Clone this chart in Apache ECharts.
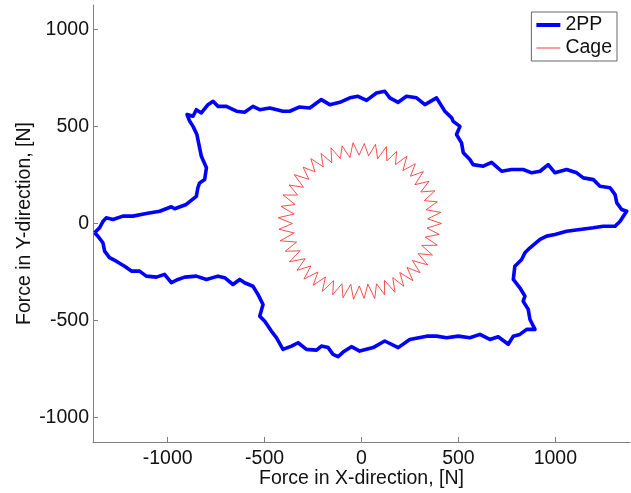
<!DOCTYPE html>
<html>
<head>
<meta charset="utf-8">
<script src="https://cdn.jsdelivr.net/npm/echarts@6/dist/echarts.min.js"></script>
<style>
html, body { margin: 0; padding: 0; background: #fff; }
#chart { width: 631px; height: 493px; }
</style>
</head>
<body>
<div id="chart"></div>
<script>
// 2PP force loop, traced clockwise from the left tip
const ppX = [-1377,-1351,-1334,-1317,-1282,-1231,-1179,-1110,-1041,-981,
  -964,-904,-852,-844,-835,-809,-800,-826,-835,-849,
  -869,-886,-900,-869,-852,-826,-792,-766,-740,-697,
  -645,-603,-560,-525,-473,-405,-370,-319,-267,-207,
  -164,-112,-60,-18,26,77,120,146,189,232,
  284,327,387,430,465,473,508,490,516,525,
  559,576,628,671,723,774,834,878,921,963,
  998,1058,1110,1144,1196,1230,1282,1308,1317,1342,
  1368,1351,1334,1308,1247,1196,1127,1058,998,955,
  921,869,843,826,791,783,817,843,834,860,
  869,895,852,817,783,757,705,662,611,559,
  499,439,387,336,249,189,120,60,-9,-52,
  -95,-121,-147,-172,-207,-232,-284,-327,-361,-405,
  -439,-465,-499,-525,-508,-534,-560,-603,-628,-663,
  -706,-740,-800,-852,-912,-947,-981,-1016,-1058,-1110,
  -1145,-1187,-1222,-1265,-1300,-1325,-1334,-1360,-1377];
const ppY = [-48,-22,10,29,21,38,38,51,63,86,
  76,98,140,184,209,226,287,346,389,458,
  500,526,561,552,586,569,612,629,603,603,
  578,573,603,586,595,578,578,600,595,638,
  612,624,647,655,634,672,681,647,624,655,
  647,612,647,578,544,526,500,458,415,364,
  329,303,295,315,269,278,278,261,269,303,
  261,278,261,235,226,192,184,149,106,72,
  63,38,12,-14,-14,-22,-31,-40,-57,-65,
  -82,-125,-151,-185,-220,-288,-331,-374,-400,-442,
  -494,-545,-545,-571,-580,-622,-583,-597,-571,-588,
  -580,-588,-580,-580,-597,-639,-605,-639,-657,-634,
  -662,-686,-674,-639,-631,-652,-648,-614,-631,-648,
  -588,-554,-503,-477,-417,-365,-323,-305,-288,-314,
  -279,-271,-288,-271,-276,-288,-305,-262,-276,-271,
  -245,-245,-220,-194,-176,-142,-99,-65,-48];

// Cage force, read as radius [N] at each angle [deg]
const cageAngle = [0,4,8,12,16,20,24,28,32,36,
  40,44,48,52,56,60,64,68,72,76,
  80,84,88,92,96,100,104,108,112,116,
  120,124,128,132,136,140,144,148,152,156,
  160,164,168,172,176,180,184,188,192,196,
  200,204,208,212,216,220,224,228,232,236,
  240,244,248,252,256,260,264,268,272,276,
  280,284,288,292,296,300,304,308,312,316,
  320,324,328,332,336,340,344,348,352,356,360];
const cageRadius = [412,342,412,340,406,344,414,346,410,340,
  416,350,414,346,418,350,412,348,416,344,
  414,350,412,352,418,344,412,352,420,348,
  416,352,424,358,418,354,428,352,422,360,
  430,356,424,350,430,356,426,350,428,348,
  418,346,420,342,410,340,412,336,404,332,
  404,328,396,326,394,318,392,322,386,314,
  392,320,386,316,394,322,390,320,396,326,
  394,324,402,330,400,330,406,336,404,338,412];

const xTicks = [-1000, -500, 0, 500, 1000];
const yTicks = [-1000, -500, 0, 500, 1000];

const font = "'Liberation Sans', Arial, sans-serif";
const axisGray = '#808080';

const ppData = ppX.map((x, i) => [x, ppY[i]]);
const cageData = cageAngle.map((a, i) => [cageRadius[i], a]);

const chart = echarts.init(document.getElementById('chart'), null, { renderer: 'canvas' });
chart.setOption({
  backgroundColor: '#fff',
  animation: false,
  grid: {
    left: 93, right: 1, top: 5, bottom: 51,
    containLabel: false,
    outerBoundsMode: 'none'
  },
  polar: {
    center: [361.5, 223.5],
    radius: 194.2
  },
  angleAxis: {
    type: 'value', min: 0, max: 360, startAngle: 0, clockwise: false,
    axisLine: { show: false }, axisTick: { show: false },
    axisLabel: { show: false }, splitLine: { show: false }
  },
  radiusAxis: {
    type: 'value', min: 0, max: 1000,
    axisLine: { show: false }, axisTick: { show: false },
    axisLabel: { show: false }, splitLine: { show: false }
  },
  xAxis: {
    type: 'value', min: -1385, max: 1385,
    name: 'Force in X-direction, [N]',
    nameLocation: 'middle', nameGap: 27, nameMoveOverlap: false,
    nameTextStyle: { color: '#111', fontSize: 19.5, fontFamily: font },
    axisLine: { show: true, onZero: false, lineStyle: { color: axisGray, width: 1 } },
    axisTick: { show: true, inside: true, length: 5, customValues: xTicks, lineStyle: { color: axisGray } },
    axisLabel: { customValues: xTicks, formatter: v => String(v), color: '#111', fontSize: 19.5, fontFamily: font, margin: 7 },
    splitLine: { show: false }
  },
  yAxis: {
    type: 'value', min: -1125, max: 1125,
    name: 'Force in Y-direction, [N]',
    nameLocation: 'middle', nameGap: 58, nameMoveOverlap: false,
    nameTextStyle: { color: '#111', fontSize: 19.5, fontFamily: font },
    axisLine: { show: true, onZero: false, lineStyle: { color: axisGray, width: 1 } },
    axisTick: { show: true, inside: true, length: 5, customValues: yTicks, lineStyle: { color: axisGray } },
    axisLabel: { customValues: yTicks, formatter: v => String(v), color: '#111', fontSize: 19.5, fontFamily: font, margin: 4 },
    splitLine: { show: false }
  },
  legend: {
    data: [
      { name: '2PP', icon: 'path://M0,0H24V4H0Z' },
      { name: 'Cage', icon: 'path://M0,0H24V1H0Z' }
    ],
    orient: 'vertical',
    right: 14, top: 12,
    padding: [3, 5, 3, 5],
    itemGap: 3,
    itemWidth: 24, itemHeight: 4,
    symbolKeepAspect: true,
    backgroundColor: '#fff',
    borderColor: '#666', borderWidth: 1, borderRadius: 0,
    textStyle: { color: '#111', fontSize: 19.5, fontFamily: font }
  },
  series: [
    {
      name: '2PP', type: 'line',
      data: ppData,
      showSymbol: false, symbol: 'none',
      smooth: false,
      lineStyle: { color: '#0000ff', width: 3.6, join: 'round' },
      itemStyle: { color: '#0000ff' }
    },
    {
      name: 'Cage', type: 'line',
      coordinateSystem: 'polar',
      data: cageData,
      showSymbol: false, symbol: 'none',
      lineStyle: { color: '#f03c3c', width: 0.9 },
      itemStyle: { color: '#f03c3c' }
    }
  ]
});
</script>
</body>
</html>
